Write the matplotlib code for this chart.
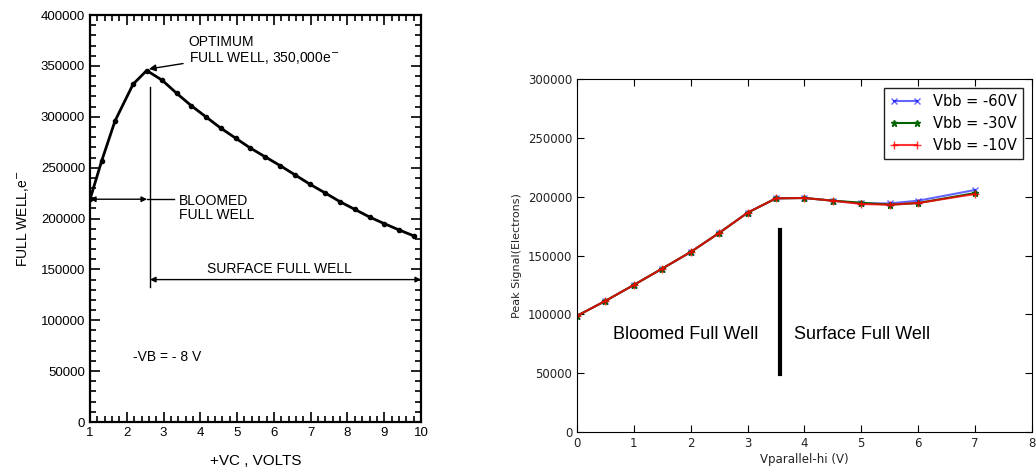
import numpy as np
import matplotlib
matplotlib.use("Agg")
import matplotlib.pyplot as plt
from matplotlib.ticker import MultipleLocator

# ── Data ───────────────────────────────────────────────────────
# Left: full well vs clock voltage (VB = -8 V)
vc_volts = [1.0, 1.32, 1.68, 2.17, 2.54, 2.96, 3.36, 3.75, 4.15, 4.55, 4.96, 5.35,
            5.77, 6.17, 6.57, 6.99, 7.40, 7.80, 8.20, 8.60, 9.00, 9.39, 9.80]
full_well = [219000, 257000, 296000, 332000, 345500, 336000, 323000, 311000, 300000,
             289000, 279000, 269500, 260500, 252000, 243000, 233500, 225000, 216500,
             209000, 201500, 195000, 189000, 183000]

# Right: peak signal vs parallel-high voltage for three substrate biases
vpar_hi = [0, 0.5, 1, 1.5, 2, 2.5, 3, 3.5, 4, 4.5, 5, 5.5, 6, 7]
peak_m60 = [98800, 111500, 125100, 139000, 153100, 169300, 186500, 198700, 199000,
            196700, 194400, 194400, 196700, 205800]
peak_m30 = [98800, 111500, 125100, 139000, 153100, 169300, 186500, 198700, 199000,
            196700, 195000, 193300, 194700, 203200]
peak_m10 = [98800, 111500, 125100, 139000, 153100, 169300, 186500, 198700, 199000,
            196700, 193900, 193300, 194700, 202400]
series_labels = ["Vbb = -60V", "Vbb = -30V", "Vbb = -10V"]

# ── Figure ─────────────────────────────────────────────────────
fig = plt.figure(figsize=(10.36, 4.71), dpi=100)
scan_font = "Liberation Sans"

# ── Left panel: scanned-style data-sheet plot ─────────────────
ax1 = fig.add_axes([0.0869, 0.104, 0.3195, 0.864])
ax1.plot(vc_volts, full_well, color="black", lw=2.0, marker="o", ms=3)
ax1.set_xlim(1, 10)
ax1.set_ylim(0, 400000)
ax1.xaxis.set_major_locator(MultipleLocator(1))
ax1.xaxis.set_minor_locator(MultipleLocator(0.2))
ax1.yaxis.set_major_locator(MultipleLocator(50000))
ax1.yaxis.set_minor_locator(MultipleLocator(10000))
ax1.tick_params(which="both", direction="in", top=True, right=True, width=1.2,
                labelsize=9.5)
ax1.tick_params(which="major", length=7)
ax1.tick_params(which="minor", length=4)
for lbl in ax1.get_xticklabels() + ax1.get_yticklabels():
    lbl.set_fontfamily(scan_font)
for sp in ax1.spines.values():
    sp.set_linewidth(1.6)
ax1.set_xlabel("+VC , VOLTS", fontsize=11, family=scan_font, labelpad=11)
ax1.set_ylabel("FULL WELL,e$^{-}$", fontsize=10, family=scan_font, labelpad=7)

# optimum point callout
ax1.annotate("OPTIMUM\nFULL WELL, 350,000e$^{-}$", xy=(2.6, 347000),
             xytext=(3.68, 365000), fontsize=10, family=scan_font,
             linespacing=1.1, va="center",
             arrowprops=dict(arrowstyle="-|>", color="black", lw=1.0,
                             shrinkA=2, shrinkB=0, mutation_scale=10))

# boundary between bloomed and surface full well
ax1.plot([2.63, 2.63], [133000, 329000], color="black", lw=1.0)

# bloomed full well span
ax1.annotate("", xy=(1.0, 219000), xytext=(2.55, 219000),
             arrowprops=dict(arrowstyle="<|-|>", color="black", lw=1.0,
                             shrinkA=0, shrinkB=0, mutation_scale=8))
ax1.plot([2.55, 3.27], [219000, 219000], color="black", lw=1.0)
ax1.text(3.42, 210000, "BLOOMED\nFULL WELL", fontsize=10, family=scan_font,
         linespacing=1.0, va="center")

# surface full well span
ax1.annotate("", xy=(2.63, 140000), xytext=(10.0, 140000),
             arrowprops=dict(arrowstyle="<|-|>", color="black", lw=1.0,
                             shrinkA=0, shrinkB=0, mutation_scale=8))
ax1.text(6.15, 150500, "SURFACE FULL WELL", fontsize=10, family=scan_font,
         ha="center", va="center")

ax1.text(2.18, 64000, "-VB = - 8 V", fontsize=10, family=scan_font, va="center")

# ── Right panel: measured peak signal ─────────────────────────
ax2 = fig.add_axes([0.557, 0.0828, 0.439, 0.749])
ax2.plot(vpar_hi, peak_m60, color="blue", alpha=0.6, marker="x", ms=5,
         label=series_labels[0])
ax2.plot(vpar_hi, peak_m30, color="#006400", marker="*", ms=4.5,
         label=series_labels[1])
ax2.plot(vpar_hi, peak_m10, color="red", alpha=0.8, marker="+", ms=6,
         label=series_labels[2])
ax2.plot([3.57, 3.57], [49000, 172000], color="black", lw=3)
ax2.text(0.64, 82500, "Bloomed Full Well", fontsize=13, family=scan_font, va="center")
ax2.text(3.82, 82500, "Surface Full Well", fontsize=13, family=scan_font, va="center")

ax2.set_xlim(0, 8)
ax2.set_ylim(0, 300000)
ax2.xaxis.set_major_locator(MultipleLocator(1))
ax2.yaxis.set_major_locator(MultipleLocator(50000))
ax2.tick_params(direction="in", top=True, right=True, length=5, labelsize=8.5,
                labelcolor="#222222")
ax2.set_xlabel("Vparallel-hi (V)", fontsize=8.5, labelpad=2, color="#222222")
ax2.set_ylabel("Peak Signal(Electrons)", fontsize=8, labelpad=4, color="#222222")
leg = ax2.legend(loc="upper right", fontsize=10.5, fancybox=False, numpoints=2,
                 framealpha=1, edgecolor="#222222", borderaxespad=0.6,
                 handlelength=2.2)
leg.get_frame().set_linewidth(1.0)

fig.savefig("out.png", dpi=100)
